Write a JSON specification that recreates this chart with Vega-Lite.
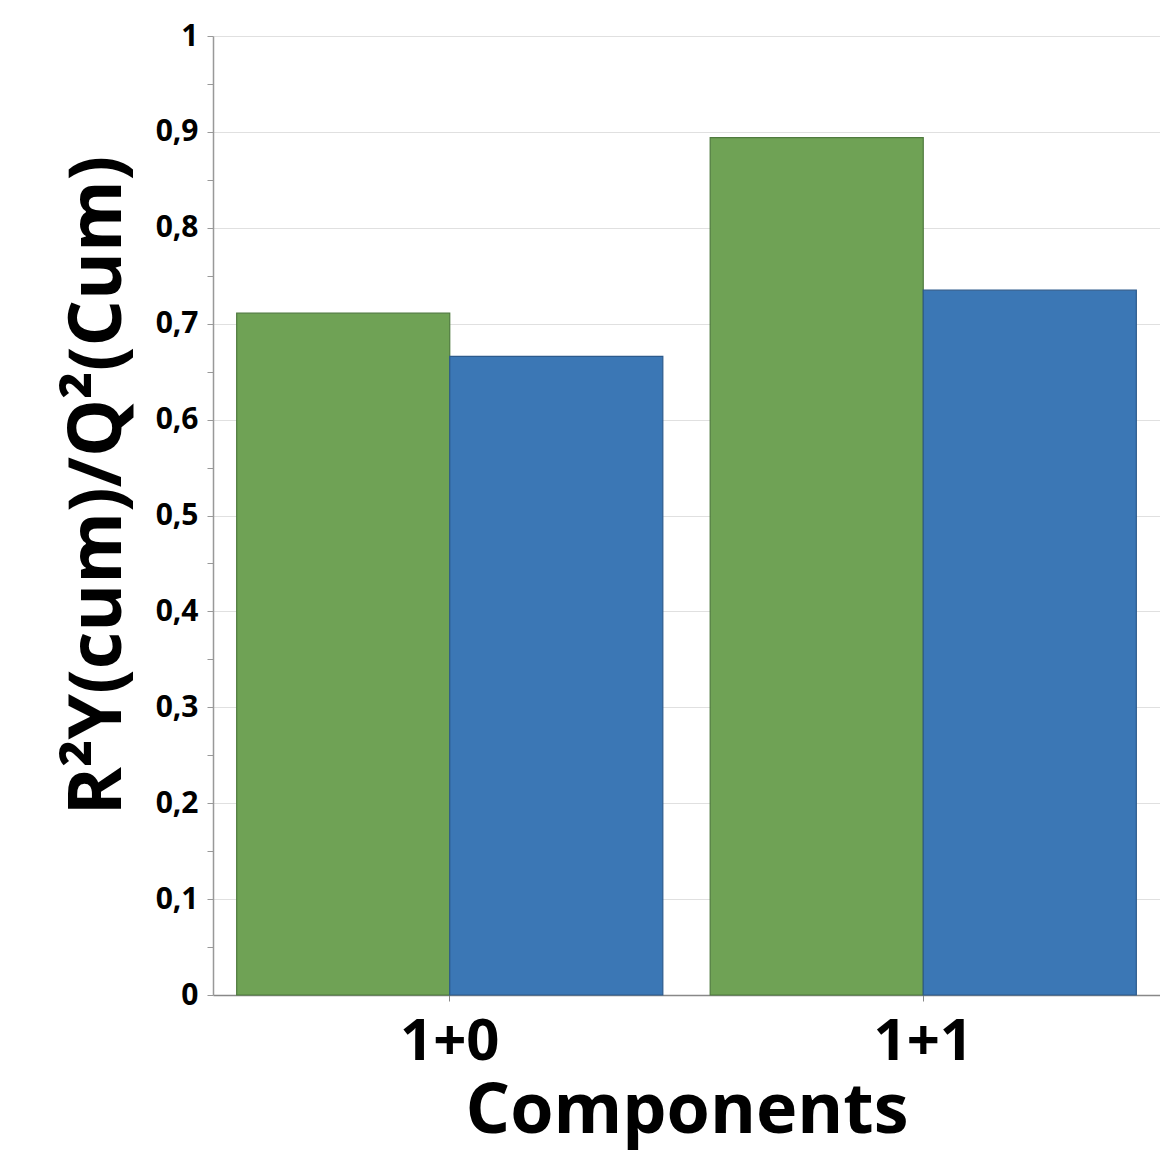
{
  "$schema": "https://vega.github.io/schema/vega-lite/v6.json",
  "width": 947,
  "height": 959,
  "autosize": {"type": "none"},
  "padding": {"left": 213, "top": 36, "right": 0, "bottom": 162},
  "background": "white",
  "config": {"view": {"stroke": null}, "font": "Open Sans"},
  "data": {
    "values": [
      {"comp": "1+0", "series": "R2Y(cum)", "value": 0.711},
      {"comp": "1+0", "series": "Q2(cum)", "value": 0.666},
      {"comp": "1+1", "series": "R2Y(cum)", "value": 0.894},
      {"comp": "1+1", "series": "Q2(cum)", "value": 0.735}
    ]
  },
  "mark": {"type": "bar", "strokeWidth": 1.2},
  "encoding": {
    "x": {
      "field": "comp",
      "type": "nominal",
      "scale": {"paddingInner": 0.1, "paddingOuter": 0.05},
      "axis": {
        "title": "Components",
        "titleFont": "Open Sans",
        "titleFontSize": 70,
        "titleFontWeight": "bold",
        "titleColor": "black",
        "titlePadding": 6,
        "labelAngle": 0,
        "labelFont": "Open Sans",
        "labelFontSize": 58,
        "labelFontWeight": "bold",
        "labelColor": "black",
        "labelPadding": 12,
        "domainColor": "#888888",
        "domainWidth": 1.5,
        "tickColor": "#888888",
        "tickSize": 6,
        "tickBand": "center",
        "grid": false
      }
    },
    "xOffset": {
      "field": "series",
      "type": "nominal",
      "sort": ["R2Y(cum)", "Q2(cum)"],
      "scale": {"paddingInner": 0, "paddingOuter": 0}
    },
    "y": {
      "field": "value",
      "type": "quantitative",
      "scale": {"domain": [0, 1], "nice": false},
      "axis": {
        "title": "R²Y(cum)/Q²(Cum)",
        "titleFont": "Open Sans",
        "titleFontSize": 73,
        "titleFontWeight": "bold",
        "titleColor": "black",
        "titleY": 449,
        "titlePadding": 20,
        "values": [0, 0.05, 0.1, 0.15, 0.2, 0.25, 0.3, 0.35, 0.4, 0.45, 0.5, 0.55, 0.6, 0.65, 0.7, 0.75, 0.8, 0.85, 0.9, 0.95, 1],
        "labelExpr": "round(datum.value*100) % 10 == 0 ? replace(format(datum.value, '.1~f'), '.', ',') : ''",
        "labelFont": "Open Sans",
        "labelFontSize": 30,
        "labelFontWeight": "bold",
        "labelColor": "black",
        "labelPadding": 9,
        "domainColor": "#999999",
        "domainWidth": 1.5,
        "tickColor": "#999999",
        "tickSize": 6,
        "grid": true,
        "gridColor": "#e0e0e0",
        "gridWidth": 1.2,
        "gridOpacity": {"condition": {"test": "round(datum.value*100) % 10 == 0 && datum.value > 0", "value": 1}, "value": 0}
      }
    },
    "color": {
      "field": "series",
      "type": "nominal",
      "scale": {"domain": ["R2Y(cum)", "Q2(cum)"], "range": ["#6fa255", "#3b77b5"]},
      "legend": null
    },
    "stroke": {
      "field": "series",
      "type": "nominal",
      "scale": {"domain": ["R2Y(cum)", "Q2(cum)"], "range": ["#4f7a3e", "#2c5a8c"]},
      "legend": null
    }
  }
}
